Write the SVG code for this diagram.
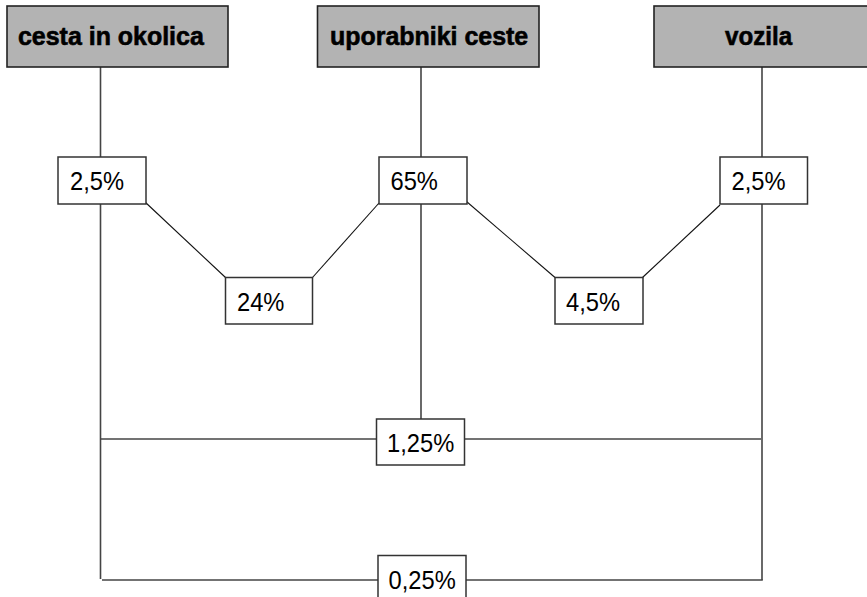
<svg xmlns="http://www.w3.org/2000/svg" width="867" height="597" viewBox="0 0 867 597">
<style>
.hdr{fill:#b3b3b3;stroke:#222;stroke-width:1.6}
.ht{font-family:"Liberation Sans",Arial,sans-serif;font-weight:bold;font-size:26px;fill:#000;stroke:#000;stroke-width:0.6}
.val{fill:#fff;stroke:#333;stroke-width:1.5}
.vt{font-family:"Liberation Sans",Arial,sans-serif;font-size:25.5px;fill:#000}
.ln{stroke:#444;stroke-width:1.6;fill:none}
.dg{stroke:#111;stroke-width:1.1;fill:none}
</style>
<rect width="867" height="597" fill="#fff"/>
<g id="connectors">
<line class="ln" x1="100.5" y1="67" x2="100.5" y2="157"/>
<line class="ln" x1="100.5" y1="204" x2="100.5" y2="579"/>
<line class="ln" x1="421" y1="67" x2="421" y2="157"/>
<line class="ln" x1="421" y1="204" x2="421" y2="419"/>
<line class="ln" x1="762" y1="67" x2="762" y2="157"/>
<line class="ln" x1="762" y1="204" x2="762" y2="580"/>
<line class="ln" x1="100.5" y1="439" x2="376" y2="439"/>
<line class="ln" x1="464" y1="439" x2="761" y2="439"/>
<line class="ln" x1="102" y1="580" x2="378" y2="580"/>
<line class="ln" x1="466" y1="580" x2="762.8" y2="580"/>
<line class="dg" x1="145" y1="202" x2="225.5" y2="277.5"/>
<line class="dg" x1="312.5" y1="277.5" x2="379" y2="203"/>
<line class="dg" x1="466.5" y1="201.5" x2="555" y2="277.5"/>
<line class="dg" x1="642.5" y1="277.5" x2="720" y2="205"/>
</g>
<g id="h1"><rect class="hdr" x="7" y="6" width="221" height="61"/><text class="ht" transform="translate(18,45) scale(0.96,1)">cesta in okolica</text></g>
<g id="h2"><rect class="hdr" x="317.5" y="6" width="221.5" height="61"/><text class="ht" transform="translate(330,45) scale(0.96,1)">uporabniki ceste</text></g>
<g id="h3"><rect class="hdr" x="654" y="6" width="222" height="61"/><text class="ht" transform="translate(725,45) scale(0.93,1)">vozila</text></g>
<g id="v1"><rect class="val" x="58" y="157" width="88" height="47"/><text class="vt" transform="translate(70,190) scale(0.93,1)">2,5%</text></g>
<g id="v2"><rect class="val" x="225.5" y="277.5" width="87" height="46.5"/><text class="vt" transform="translate(237,310.5) scale(0.93,1)">24%</text></g>
<g id="v3"><rect class="val" x="379" y="157" width="88" height="47"/><text class="vt" transform="translate(390.5,190) scale(0.93,1)">65%</text></g>
<g id="v4"><rect class="val" x="555" y="277.5" width="88" height="46.5"/><text class="vt" transform="translate(566,310.5) scale(0.93,1)">4,5%</text></g>
<g id="v5"><rect class="val" x="720" y="157" width="87.5" height="47"/><text class="vt" transform="translate(731.5,190) scale(0.93,1)">2,5%</text></g>
<g id="v6"><rect class="val" x="376.5" y="419" width="88" height="46"/><text class="vt" transform="translate(387,452) scale(0.93,1)">1,25%</text></g>
<g id="v7"><rect class="val" x="378" y="555.5" width="88" height="47"/><text class="vt" transform="translate(388.5,589) scale(0.93,1)">0,25%</text></g>
</svg>
